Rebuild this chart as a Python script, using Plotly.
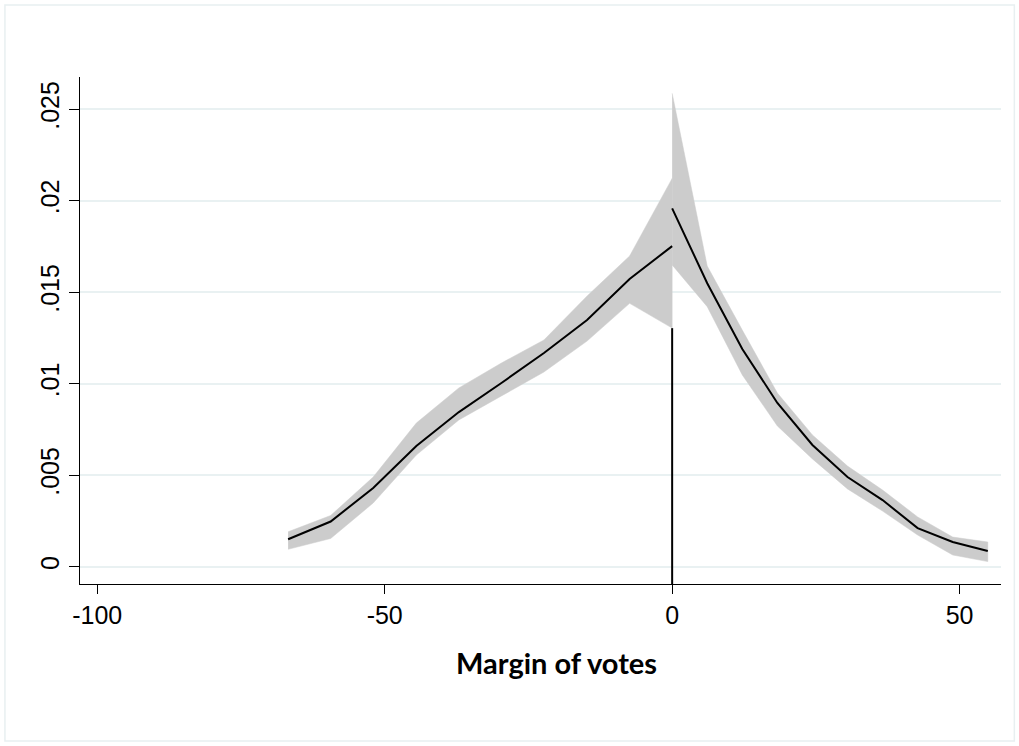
import plotly.graph_objects as go

# Left of cutoff (losing side)
x_left = [-66.8, -59.4, -52.0, -44.5, -37.1, -29.7, -22.3, -14.8, -7.4, 0.0]
fit_left = [0.00150, 0.00247, 0.00430, 0.00660, 0.00845, 0.01004, 0.01168, 0.01348, 0.01572, 0.01752]
hi_left = [0.00191, 0.00280, 0.00490, 0.00785, 0.00977, 0.01113, 0.01239, 0.01479, 0.01698, 0.02122]
lo_left = [0.00095, 0.00154, 0.00348, 0.00610, 0.00802, 0.00933, 0.01064, 0.01233, 0.01439, 0.01304]

# Right of cutoff (winning side)
x_right = [0.0, 6.1, 12.2, 18.3, 24.4, 30.5, 36.6, 42.7, 48.8, 54.9]
fit_right = [0.01958, 0.01549, 0.01190, 0.00895, 0.00665, 0.00490, 0.00364, 0.00211, 0.00135, 0.00086]
hi_right = [0.02587, 0.01643, 0.01293, 0.00949, 0.00720, 0.00550, 0.00419, 0.00272, 0.00162, 0.00135]
lo_right = [0.01649, 0.01421, 0.01048, 0.00769, 0.00589, 0.00425, 0.00304, 0.00173, 0.00064, 0.00028]

x_ticks = [-100, -50, 0, 50]
y_ticks = [0, 0.005, 0.01, 0.015, 0.02, 0.025]
y_tick_labels = ["0", ".005", ".01", ".015", ".02", ".025"]
x_title = "Margin of votes"

x_range = [-103.0, 57.2]
y_range = [-0.000945, 0.02676]

band_color = "#cccccc"
line_color = "#000000"

fig = go.Figure()

# cutoff line at zero (drawn below the bands, hidden where they cover it)
fig.add_trace(go.Scatter(x=[0, 0], y=[y_range[0], lo_left[-1]], mode="lines",
                         line=dict(color=line_color, width=2), hoverinfo="skip",
                         showlegend=False))

for xs, hi, lo in [(x_left, hi_left, lo_left), (x_right, hi_right, lo_right)]:
    fig.add_trace(go.Scatter(x=xs + xs[::-1], y=hi + lo[::-1], mode="lines",
                             fill="toself", fillcolor=band_color,
                             line=dict(color=band_color, width=0.5),
                             hoverinfo="skip", showlegend=False))

for xs, ys in [(x_left, fit_left), (x_right, fit_right)]:
    fig.add_trace(go.Scatter(x=xs, y=ys, mode="lines",
                             line=dict(color=line_color, width=2),
                             showlegend=False))

fig.update_layout(
    width=1019, height=746,
    margin=dict(l=80, r=18, t=77, b=162),
    paper_bgcolor="white", plot_bgcolor="white",
    font=dict(family="Liberation Sans, Arial, sans-serif", size=25, color="black"),
    xaxis=dict(range=x_range, tickvals=x_ticks, ticktext=[str(v) for v in x_ticks],
               showgrid=False, zeroline=False, showline=True, linecolor="black",
               linewidth=1.3, ticks="outside", ticklen=9, tickwidth=1.3,
               tickcolor="black", tickfont=dict(size=25)),
    yaxis=dict(range=y_range, tickvals=y_ticks, ticktext=y_tick_labels,
               tickangle=-90, showgrid=True, gridcolor="#e9f1f2", gridwidth=2,
               zeroline=False, showline=True, linecolor="black", linewidth=1.3,
               ticks="outside", ticklen=10, tickwidth=1.3, tickcolor="black",
               tickfont=dict(size=25)),
    annotations=[dict(text="<b>" + x_title + "</b>", xref="paper", yref="paper",
                      x=0.5176, y=-0.1558, xanchor="center", yanchor="middle",
                      showarrow=False,
                      font=dict(family="Lato, Open Sans, sans-serif", size=29,
                                color="black"))],
    shapes=[dict(type="rect", xref="paper", yref="paper",
                 x0=-0.0815, x1=1.0145, y0=-0.3097, y1=1.142,
                 line=dict(color="#e8eff1", width=1.5), layer="below")],
)

fig.write_html("out.html", config={"displayModeBar": False},
               post_script="document.body.style.margin='0';document.body.style.overflow='hidden';")
